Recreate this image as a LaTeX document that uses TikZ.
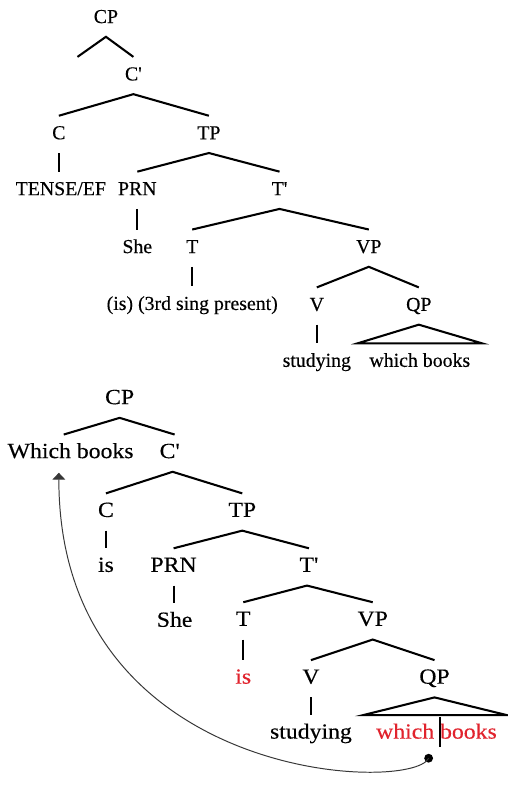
\documentclass[tikz,border=0pt]{standalone}
\usepackage{fontspec}
\setmainfont{Liberation Serif}[Ligatures=TeXOff,FakeBold=0.3]
\newfontfamily\widefont{Liberation Serif}[FakeStretch=1.1,Ligatures=TeXOff,FakeBold=0.3]
\usetikzlibrary{arrows.meta}
\definecolor{movered}{RGB}{225,35,45}
\definecolor{arcgray}{RGB}{55,55,55}
\begin{document}
\begin{tikzpicture}[x=1pt,y=-1pt,
  lbl/.style={anchor=base, inner sep=0pt, outer xsep=0pt, outer ysep=10pt,
              text height=14pt, text depth=4pt},
  toplbl/.style={lbl, font=\fontsize{20.2}{24}\selectfont},
  botlbl/.style={lbl, font=\widefont\fontsize{22}{26}\selectfont},
  branch/.style={line width=2.1pt, line join=miter},
  movearc/.style={line width=1pt, draw=arcgray},
]
\fill[white] (0,0) rectangle (517,794);

% ---------- upper tree: before movement ----------
\node[toplbl] (cp1)   at (108,23.5) {CP};
\node[toplbl] (cb1)   at (136,82)   {C'};
\node[toplbl] (c1)    at (60,142)   {C};
\node[toplbl] (tp1)   at (213,142)  {TP};
\node[toplbl] (tense) at (62,199)   {TENSE/EF};
\node[toplbl] (prn1)  at (140,199)  {PRN};
\node[toplbl] (tb1)   at (285,199)  {T'};
\node[toplbl] (she1)  at (140,258)  {She};
\node[toplbl] (t1)    at (196,258)  {T};
\node[toplbl] (vp1)   at (376,258)  {VP};
\node[toplbl] (is1)   at (196,316)  {(is) (3rd sing present)};
\node[toplbl] (v1)    at (323,317)  {V};
\node[toplbl] (qp1)   at (427,317)  {QP};
\node[toplbl] (stud1) at (323,374)  {studying};
\node[toplbl] (wb1)   at (428,374)  {which books};
\coordinate (spec1) at (79,58);

\draw[branch] (spec1) -- (cp1.south) -- (cb1.north);
\draw[branch] (c1.north) -- (cb1.south) -- (tp1.north);
\draw[branch] (c1.south) -- (c1.south |- tense.north);
\draw[branch] (prn1.north) -- (tp1.south) -- (tb1.north);
\draw[branch] (prn1.south) -- (she1.north);
\draw[branch] (t1.north) -- (tb1.south) -- (vp1.north);
\draw[branch] (t1.south) -- (is1.north);
\draw[branch] (v1.north) -- (vp1.south) -- (qp1.north);
\draw[branch] (v1.south) -- (stud1.north);
\draw[branch] ([xshift=-12pt]wb1.north west) -- (qp1.south)
              -- ([xshift=12pt]wb1.north east) -- cycle;

% ---------- lower tree: after movement ----------
\node[botlbl] (cp2)   at (122,412) {CP};
\node[botlbl] (wb2)   at (72,467)  {Which books};
\node[botlbl] (cb2)   at (173,467) {C'};
\node[botlbl] (c2)    at (108,527) {C};
\node[botlbl] (tp2)   at (247,527) {TP};
\node[botlbl] (is2)   at (108,583) {is};
\node[botlbl] (prn2)  at (177,583) {PRN};
\node[botlbl] (tb2)   at (315,583) {T'};
\node[botlbl] (she2)  at (178,639) {She};
\node[botlbl] (t2)    at (248,638) {T};
\node[botlbl] (vp2)   at (380,638) {VP};
\node[botlbl, text=movered] (is3) at (248,697) {is};
\node[botlbl] (v2)    at (317,697) {V};
\node[botlbl] (qp2)   at (443,697) {QP};
\node[botlbl] (stud2) at (317,753) {studying};
\node[botlbl, text=movered] (wb3) at (445,753) {which books};

\draw[branch] ([xshift=-7pt]wb2.north) -- (cp2.south) -- ([xshift=5pt]cb2.north);
\draw[branch] (c2.north) -- ([xshift=3pt]cb2.south) -- (tp2.north);
\draw[branch] (c2.south) -- (is2.north);
\draw[branch] (prn2.north) -- (tp2.south) -- (tb2.north);
\draw[branch] (prn2.south) -- (prn2.south |- she2.north);
\draw[branch] (t2.north) -- ([xshift=-2pt]tb2.south) -- (vp2.north);
\draw[branch] (t2.south) -- (is3.north);
\draw[branch] (v2.north) -- (vp2.south) -- (qp2.north);
\draw[branch] (v2.south) -- (stud2.north);
\draw[branch] ([xshift=-13pt]wb3.north west) -- (qp2.south)
              -- ([xshift=10pt]wb3.north east) -- cycle;

% trace of the moved phrase and the movement arc
\coordinate (trtop) at (449,731);
\coordinate (trbot) at (449,762);
\draw[branch] (trtop) -- (trbot);
\node[circle, fill=black, inner sep=0pt, minimum size=9pt] (dot) at (437,773) {};
\coordinate (landing) at ([xshift=-12pt,yshift=-1pt]wb2.south);
\draw[movearc, -{Triangle[length=7pt,width=13pt]}]
  (dot.center) .. controls +(-17,36) and +(0,316) .. (landing);
\end{tikzpicture}
\end{document}
